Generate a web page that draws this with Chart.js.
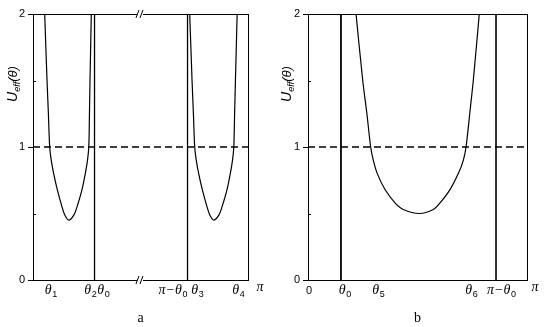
<!DOCTYPE html>
<html>
<head>
<meta charset="utf-8">
<script src="https://cdn.jsdelivr.net/npm/chart.js@4.4.0/dist/chart.umd.min.js"></script>
<style>
  body { margin: 0; background: #fff; }
  #wrap { position: relative; width: 545px; height: 327px; }
  canvas { position: absolute; top: 0; }
</style>
</head>
<body>
<div id="wrap">
  <canvas id="chartA" width="270" height="327" style="left:0;width:270px;height:327px"></canvas>
  <canvas id="chartB" width="275" height="327" style="left:270px;width:275px;height:327px"></canvas>
</div>
<script>
// 數據 (theta 以弧度, U_eff 數值)
const aCurve1X = [0.171, 0.205, 0.225, 0.244, 0.267, 0.302, 0.355, 0.424, 0.463, 0.522, 0.599, 0.643, 0.716, 0.764, 0.796, 0.815, 0.825, 0.833, 0.852];
const aCurve1Y = [2.0, 1.5, 1.25, 1.0, 0.90, 0.80, 0.68, 0.55, 0.49, 0.45, 0.49, 0.55, 0.68, 0.80, 0.90, 1.0, 1.25, 1.5, 2.0];
const aCurve2X = [2.290, 2.324, 2.344, 2.363, 2.386, 2.421, 2.474, 2.543, 2.582, 2.641, 2.718, 2.762, 2.835, 2.883, 2.915, 2.934, 2.946, 2.958, 2.983];
const aCurve2Y = [2.0, 1.5, 1.25, 1.0, 0.90, 0.80, 0.68, 0.55, 0.49, 0.45, 0.49, 0.55, 0.68, 0.80, 0.90, 1.0, 1.25, 1.5, 2.0];
const aWalls = [0.899, 2.258];
const aBreak = 1.563;

const bCurveX = [0.689, 0.785, 0.845, 0.899, 0.937, 0.994, 1.105, 1.248, 1.367, 1.597, 1.797, 1.894, 2.037, 2.156, 2.228, 2.267, 2.320, 2.371, 2.457];
const bCurveY = [2.0, 1.5, 1.25, 1.0, 0.90, 0.80, 0.68, 0.58, 0.53, 0.50, 0.53, 0.58, 0.68, 0.80, 0.90, 1.0, 1.25, 1.5, 2.0];
const bWalls = [0.473, 2.697];

const refLevel = 1;
const yTicks = [0, 0.5, 1, 1.5, 2];

// x 軸標籤 (主字, 下標) 與位置
const aTickLabels = [['θ', '1'], ['θ', '2'], ['θ', '0'], ['π−θ', '0'], ['θ', '3'], ['θ', '4'], ['π', '']];
const aTickPos = [0.263, 0.840, 1.030, 2.046, 2.404, 3.003, 3.317];
const bTickLabels = [['0', ''], ['θ', '0'], ['θ', '5'], ['θ', '6'], ['π−θ', '0'], ['π', '']];
const bTickPos = [0.014, 0.531, 1.011, 2.345, 2.776, 3.256];

const toPts = (xs, ys) => xs.map((x, i) => ({ x: x, y: ys[i] }));

function curveSet(xs, ys) {
  return { data: toPts(xs, ys), borderColor: '#000', borderWidth: 1.2, pointRadius: 0, tension: 0.3, fill: false };
}
function wallSet(x, w) {
  return { data: [{ x: x, y: 0 }, { x: x, y: 2 }], borderColor: '#000', borderWidth: w, pointRadius: 0, fill: false };
}
function dashSet() {
  return { data: [{ x: 0, y: refLevel }, { x: Math.PI, y: refLevel }], borderColor: '#000', borderWidth: 1.3, borderDash: [7, 4], pointRadius: 0, fill: false };
}

// 畫 θ 標籤 (含下標)
function drawLabel(ctx, cx, base, main, sub) {
  const upright = /^[0-9]$/.test(main);
  const mainFont = upright ? '11px "Liberation Sans"' : 'italic 14px "Liberation Serif"';
  const subFont = '9px "Liberation Sans"';
  ctx.font = mainFont;
  const w1 = ctx.measureText(main).width;
  ctx.font = subFont;
  const w2 = sub ? ctx.measureText(sub).width + 0.5 : 0;
  let x0 = cx - (w1 + w2) / 2;
  ctx.textAlign = 'left';
  ctx.textBaseline = 'alphabetic';
  ctx.font = mainFont;
  ctx.fillText(main, x0, main === 'π' ? base - 3 : base);
  if (sub) {
    ctx.font = subFont;
    ctx.fillText(sub, x0 + w1 + 0.5, base + 3);
  }
}

function drawYTitle(ctx, cx, cy) {
  ctx.save();
  ctx.translate(cx, cy);
  ctx.rotate(-Math.PI / 2);
  const parts = [
    ['U', 'italic 14px "Liberation Sans"', 0],
    ['eff', 'italic 9px "Liberation Sans"', 3],
    ['(θ)', 'italic 13px "Liberation Sans"', 0]
  ];
  let total = 0;
  parts.forEach(p => { ctx.font = p[1]; total += ctx.measureText(p[0]).width; });
  let x = -total / 2;
  ctx.textBaseline = 'alphabetic';
  ctx.textAlign = 'left';
  parts.forEach(p => {
    ctx.font = p[1];
    ctx.fillText(p[0], x, 5 + p[2]);
    x += ctx.measureText(p[0]).width;
  });
  ctx.restore();
}

const framePlugin = {
  id: 'frame',
  afterDraw(chart, args, opts) {
    const ctx = chart.ctx;
    const { left, right, top, bottom } = chart.chartArea;
    const xs = chart.scales.x, ys = chart.scales.y;
    ctx.save();
    ctx.strokeStyle = '#000';
    ctx.fillStyle = '#000';
    ctx.lineWidth = 1;
    ctx.strokeRect(Math.round(left) + 0.5, Math.round(top) + 0.5, Math.round(right - left), Math.round(bottom - top));
    // 次刻度 (向內)
    yTicks.filter(v => !Number.isInteger(v)).forEach(v => {
      const py = Math.round(ys.getPixelForValue(v)) + 0.5;
      ctx.beginPath();
      ctx.moveTo(left, py);
      ctx.lineTo(left + 3, py);
      ctx.stroke();
    });
    // 斷軸記號
    if (opts.breakAt !== undefined) {
      const bx = xs.getPixelForValue(opts.breakAt);
      [top, bottom].forEach(by => {
        ctx.fillStyle = '#fff';
        ctx.fillRect(bx - 3, by - 1, 6, 3);
        ctx.beginPath();
        ctx.moveTo(bx - 4, by + 4); ctx.lineTo(bx - 1, by - 4);
        ctx.moveTo(bx, by + 4); ctx.lineTo(bx + 3, by - 4);
        ctx.stroke();
      });
      ctx.fillStyle = '#000';
    }
    opts.labels.forEach((lab, i) => {
      drawLabel(ctx, xs.getPixelForValue(opts.positions[i]), 294, lab[0], lab[1]);
    });
    drawYTitle(ctx, opts.titleX, 84);
    ctx.font = '14px "Liberation Serif"';
    ctx.textAlign = 'center';
    ctx.textBaseline = 'alphabetic';
    ctx.fillText(opts.caption, (left + right) / 2, 322);
    ctx.restore();
  }
};

function makeChart(id, datasets, yWidth, padRight, frameOpts) {
  return new Chart(document.getElementById(id).getContext('2d'), {
    type: 'line',
    data: { datasets: datasets },
    options: {
      responsive: false,
      animation: false,
      layout: { padding: { top: 14, right: padRight, bottom: 47, left: 0 } },
      plugins: { legend: { display: false }, tooltip: { enabled: false }, frame: frameOpts },
      scales: {
        x: { type: 'linear', min: 0, max: Math.PI, display: false },
        y: {
          min: 0, max: 2,
          afterFit: s => { s.width = yWidth; },
          afterBuildTicks: s => { s.ticks = yTicks.map(v => ({ value: v })); },
          border: { display: false },
          grid: { drawOnChartArea: false, tickLength: 5, tickColor: c => Number.isInteger(c.tick.value) ? '#000' : 'rgba(0,0,0,0)' },
          ticks: { color: '#000', padding: 3, font: { family: 'Liberation Sans', size: 11 }, callback: v => Number.isInteger(v) ? String(v) : '' }
        }
      }
    },
    plugins: [framePlugin]
  });
}

makeChart('chartA', [
  dashSet(),
  curveSet(aCurve1X, aCurve1Y),
  curveSet(aCurve2X, aCurve2Y),
  wallSet(aWalls[0], 1.3),
  wallSet(aWalls[1], 1.3)
], 33, 22, { labels: aTickLabels, positions: aTickPos, caption: 'a', breakAt: aBreak, titleX: 12 });

makeChart('chartB', [
  dashSet(),
  curveSet(bCurveX, bCurveY),
  wallSet(bWalls[0], 1.8),
  wallSet(bWalls[1], 1.6)
], 38, 18, { labels: bTickLabels, positions: bTickPos, caption: 'b', titleX: 16 });
</script>
</body>
</html>
